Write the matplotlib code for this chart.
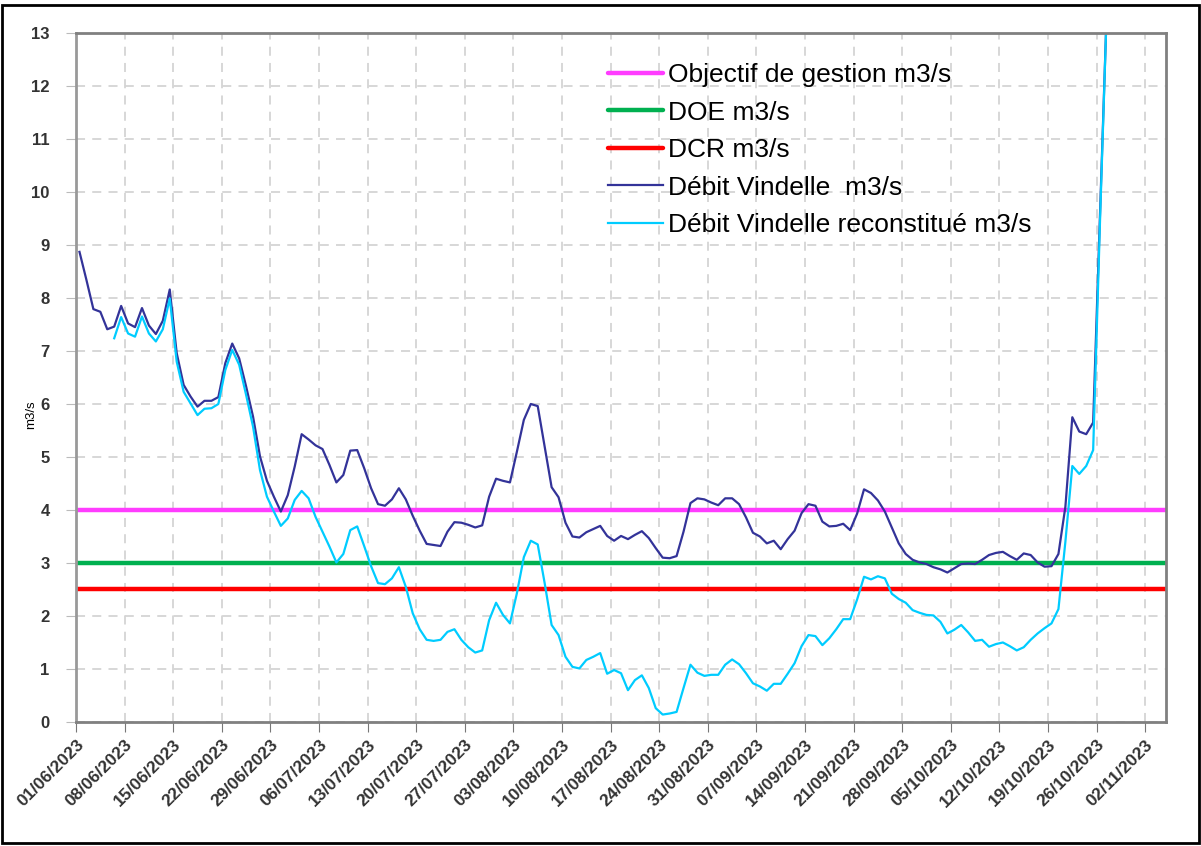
import matplotlib
matplotlib.use("Agg")
import matplotlib.pyplot as plt
import matplotlib.dates as mdates
import pandas as pd
from matplotlib.patches import Rectangle

plt.rcParams['font.family'] = ['Liberation Sans', 'DejaVu Sans']

# débit mesuré, un point par jour à partir du 01/06/2023
debit = [8.87, 8.34, 7.79, 7.74, 7.41, 7.46, 7.85, 7.52, 7.45, 7.81,
         7.48, 7.32, 7.57, 8.16, 6.96, 6.36, 6.14, 5.95, 6.06, 6.06,
         6.13, 6.77, 7.14, 6.86, 6.33, 5.76, 5.01, 4.55, 4.25, 3.97,
         4.28, 4.82, 5.43, 5.33, 5.22, 5.15, 4.85, 4.52, 4.66, 5.12,
         5.13, 4.79, 4.41, 4.11, 4.08, 4.20, 4.41, 4.20, 3.89, 3.61,
         3.36, 3.34, 3.32, 3.59, 3.77, 3.76, 3.72, 3.67, 3.71, 4.25,
         4.59, 4.55, 4.52, 5.10, 5.70, 6.00, 5.96, 5.19, 4.43, 4.24,
         3.76, 3.50, 3.48, 3.58, 3.64, 3.70, 3.51, 3.42, 3.51, 3.45,
         3.53, 3.60, 3.47, 3.28, 3.10, 3.09, 3.13, 3.59, 4.13, 4.22,
         4.20, 4.14, 4.09, 4.22, 4.22, 4.11, 3.86, 3.57, 3.50, 3.37,
         3.42, 3.26, 3.45, 3.61, 3.94, 4.11, 4.08, 3.78, 3.69, 3.70,
         3.74, 3.62, 3.93, 4.39, 4.32, 4.18, 3.97, 3.67, 3.37, 3.17,
         3.06, 3.01, 2.98, 2.92, 2.88, 2.82, 2.90, 2.98, 2.99, 2.98,
         3.06, 3.15, 3.19, 3.21, 3.13, 3.06, 3.18, 3.15, 3.01, 2.93,
         2.94, 3.17, 4.06, 5.75, 5.48, 5.43, 5.65, 9.6, 13.6]

# débit reconstitué, commence le 06/06/2023
reconstitue = [7.24, 7.64, 7.33, 7.27, 7.65, 7.33, 7.18, 7.41, 7.99, 6.80,
               6.23, 6.01, 5.79, 5.91, 5.92, 6.00, 6.64, 7.02, 6.74, 6.17,
               5.57, 4.75, 4.25, 3.97, 3.70, 3.84, 4.19, 4.36, 4.22, 3.87,
               3.59, 3.31, 3.01, 3.17, 3.62, 3.69, 3.32, 2.94, 2.62, 2.60,
               2.71, 2.92, 2.55, 2.05, 1.75, 1.55, 1.53, 1.55, 1.70, 1.75,
               1.55, 1.41, 1.31, 1.35, 1.92, 2.25, 2.02, 1.86, 2.43, 3.11,
               3.42, 3.35, 2.62, 1.83, 1.64, 1.23, 1.04, 1.01, 1.17, 1.23,
               1.30, 0.91, 0.98, 0.92, 0.60, 0.79, 0.88, 0.64, 0.26, 0.14,
               0.16, 0.19, 0.64, 1.08, 0.93, 0.87, 0.89, 0.89, 1.08, 1.18,
               1.09, 0.92, 0.73, 0.67, 0.59, 0.72, 0.72, 0.91, 1.11, 1.43,
               1.64, 1.62, 1.45, 1.58, 1.75, 1.94, 1.94, 2.31, 2.74, 2.69,
               2.75, 2.71, 2.42, 2.32, 2.25, 2.11, 2.06, 2.02, 2.01, 1.89,
               1.67, 1.74, 1.83, 1.69, 1.53, 1.55, 1.42, 1.47, 1.50, 1.43,
               1.35, 1.41, 1.55, 1.67, 1.77, 1.86, 2.13, 3.40, 4.83, 4.68,
               4.83, 5.13, 9.5, 13.6]

objectif = 4.0
doe = 3.0
dcr = 2.5

dates = pd.date_range('2023-06-01 12:00', periods=len(debit), freq='D')
dates_rec = dates[len(debit) - len(reconstitue):]

fig = plt.figure(figsize=(12.01, 8.46), dpi=100)
ax = fig.add_axes([0.0633, 0.1466, 0.9076, 0.8144])

ax.axhline(objectif, color='#FF3CFF', lw=3.2, label='Objectif de gestion m3/s', solid_capstyle='round')
ax.axhline(doe, color='#00B050', lw=3.2, label='DOE m3/s', solid_capstyle='round')
ax.axhline(dcr, color='#FF0000', lw=3.2, label='DCR m3/s', solid_capstyle='round')
ax.plot(dates, debit, color='#333399', lw=1.6, label='Débit Vindelle  m3/s')
ax.plot(dates_rec, reconstitue, color='#00CCFF', lw=1.6, label='Débit Vindelle reconstitué m3/s')

ax.set_xlim(pd.Timestamp('2023-06-01'), pd.Timestamp('2023-11-05'))
ax.set_ylim(0, 13)
ax.set_yticks(range(0, 14))
ticks = pd.date_range('2023-06-01', '2023-11-02', freq='7D')
ax.set_xticks(ticks)
ax.xaxis.set_major_formatter(mdates.DateFormatter('%d/%m/%Y'))

ax.grid(True, color='#D4D4D4', linestyle=(0, (5, 4)), lw=1.3)
ax.set_axisbelow(True)

for lab in ax.get_xticklabels():
    lab.set_rotation(45)
    lab.set_ha('right')
    lab.set_rotation_mode('anchor')
    lab.set_fontweight('bold')
    lab.set_fontsize(12.5)
    lab.set_color('#333333')
for lab in ax.get_yticklabels():
    lab.set_fontweight('bold')
    lab.set_fontsize(12)
    lab.set_color('#333333')

ax.tick_params(axis='x', length=7, color='#777777', pad=4)
ax.tick_params(axis='y', length=7, color='#BBBBBB', pad=12)

for s in ['top', 'right', 'bottom']:
    ax.spines[s].set_color('#808080')
    ax.spines[s].set_linewidth(2)
ax.spines['left'].set_color('#999999')
ax.spines['left'].set_linewidth(2)
ax.spines['left'].set_linestyle((0, (1, 1)))

ax.set_ylabel('m3/s', fontsize=9.5)
ax.yaxis.set_label_coords(-0.036, 0.446)

leg = ax.legend(loc='upper left', bbox_to_anchor=(0.466, 0.991), frameon=False,
                fontsize=19, handlelength=2.1, handletextpad=0.2, labelspacing=0.515)

fig.patches.append(Rectangle((0.002, 0.003), 0.996, 0.991, transform=fig.transFigure,
                             fill=False, edgecolor='black', lw=2))

fig.savefig('out.png', dpi=100)
